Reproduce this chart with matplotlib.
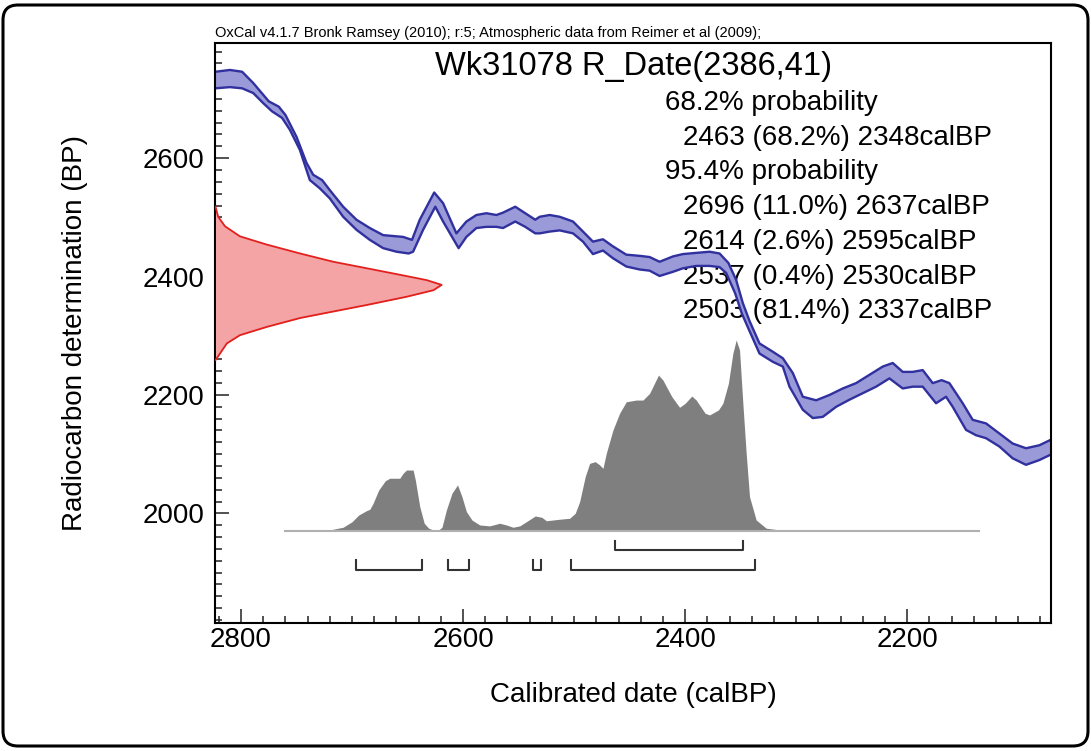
import matplotlib.pyplot as plt
import matplotlib.patches as mpatches
from matplotlib.ticker import MultipleLocator

plt.rcParams['font.family'] = ['Liberation Sans', 'DejaVu Sans']

header = "OxCal v4.1.7 Bronk Ramsey (2010); r:5; Atmospheric data from Reimer et al (2009);"
title = "Wk31078 R_Date(2386,41)"

# calibration curve band (cal BP, BP)
curve_hi_x = [2823, 2810, 2799, 2789, 2775, 2766, 2760, 2750, 2741, 2735, 2727, 2720, 2708, 2696,
              2684, 2672, 2654, 2646, 2639, 2626, 2618, 2606, 2597, 2588, 2579, 2570, 2564, 2553,
              2544, 2535, 2531, 2522, 2513, 2501, 2492, 2483, 2474, 2465, 2453, 2441, 2432, 2423,
              2411, 2402, 2390, 2378, 2369, 2361, 2354, 2348, 2342, 2333, 2321, 2312, 2303, 2294,
              2282, 2270, 2258, 2246, 2234, 2222, 2213, 2204, 2195, 2186, 2177, 2169, 2162, 2150,
              2141, 2129, 2117, 2105, 2093, 2081, 2071]
curve_hi_y = [2746, 2749, 2746, 2727, 2696, 2687, 2673, 2636, 2592, 2572, 2563, 2546, 2518, 2496,
              2482, 2470, 2467, 2462, 2496, 2542, 2524, 2473, 2493, 2504, 2507, 2504, 2508, 2518,
              2507, 2496, 2501, 2504, 2501, 2493, 2476, 2459, 2463, 2451, 2437, 2435, 2433, 2425,
              2434, 2438, 2440, 2442, 2439, 2423, 2394, 2355, 2325, 2287, 2273, 2262, 2237, 2197,
              2191, 2200, 2211, 2220, 2234, 2248, 2254, 2239, 2239, 2242, 2220, 2225, 2220, 2186,
              2158, 2152, 2135, 2118, 2110, 2115, 2124]
curve_lo_x = [2823, 2810, 2799, 2789, 2780, 2772, 2763, 2756, 2747, 2738, 2729, 2720, 2708, 2696,
              2684, 2672, 2660, 2649, 2645, 2636, 2625, 2618, 2604, 2597, 2588, 2579, 2570, 2564,
              2553, 2544, 2535, 2531, 2522, 2513, 2501, 2492, 2483, 2474, 2465, 2453, 2441, 2432,
              2423, 2411, 2402, 2390, 2378, 2369, 2363, 2355, 2349, 2342, 2333, 2321, 2312, 2306,
              2294, 2285, 2276, 2264, 2252, 2240, 2228, 2216, 2204, 2195, 2186, 2174, 2165, 2159,
              2147, 2138, 2129, 2117, 2105, 2093, 2081, 2071]
curve_lo_y = [2718, 2720, 2718, 2710, 2693, 2679, 2668, 2648, 2614, 2563, 2549, 2532, 2501, 2479,
              2462, 2448, 2442, 2439, 2442, 2479, 2518, 2493, 2448, 2467, 2482, 2484, 2484, 2482,
              2493, 2484, 2473, 2473, 2476, 2478, 2473, 2459, 2438, 2444, 2431, 2417, 2412, 2410,
              2401, 2408, 2414, 2418, 2418, 2416, 2406, 2372, 2338, 2308, 2270, 2256, 2248, 2214,
              2175, 2161, 2163, 2180, 2192, 2203, 2214, 2228, 2211, 2214, 2214, 2186, 2197, 2180,
              2141, 2132, 2127, 2113, 2093, 2082, 2090, 2099]

# radiocarbon measurement R_Date(2386,41), relative probability
rc_bp = [2518, 2501, 2485, 2468, 2454, 2439, 2425, 2414, 2403, 2394, 2386, 2377, 2366, 2352,
         2341, 2330, 2315, 2301, 2287, 2270, 2259]
rc_prob = [0.0, 0.012, 0.042, 0.108, 0.227, 0.374, 0.521, 0.669, 0.816, 0.934, 1.0, 0.964, 0.846,
           0.669, 0.521, 0.374, 0.227, 0.108, 0.05, 0.02, 0.0]

# calibrated date distribution, relative probability
cal_bp = [2760, 2720, 2708, 2700, 2694, 2687, 2684, 2681, 2676, 2670, 2666, 2657, 2654, 2651,
          2645, 2643, 2639, 2635, 2631, 2627, 2622, 2619, 2615, 2610, 2605, 2601, 2597, 2592,
          2585, 2576, 2567, 2561, 2555, 2549, 2543, 2535, 2529, 2525, 2519, 2513, 2504, 2499,
          2495, 2490, 2486, 2481, 2477, 2474, 2471, 2465, 2459, 2453, 2444, 2438, 2432, 2424,
          2420, 2412, 2405, 2400, 2394, 2390, 2382, 2378, 2370, 2366, 2361, 2357, 2354, 2351,
          2348, 2345, 2342, 2336, 2327, 2315, 2250, 2200, 2135]
cal_prob = [0.0, 0.004, 0.018, 0.047, 0.082, 0.105, 0.112, 0.144, 0.213, 0.262, 0.275, 0.275,
            0.301, 0.318, 0.318, 0.266, 0.126, 0.039, 0.013, 0.004, 0.004, 0.018, 0.109, 0.196,
            0.240, 0.178, 0.100, 0.056, 0.030, 0.025, 0.039, 0.030, 0.018, 0.025, 0.047, 0.077,
            0.070, 0.052, 0.056, 0.060, 0.065, 0.091, 0.152, 0.283, 0.353, 0.362, 0.345, 0.327,
            0.406, 0.528, 0.616, 0.676, 0.685, 0.685, 0.720, 0.816, 0.790, 0.703, 0.647, 0.668,
            0.706, 0.685, 0.616, 0.607, 0.633, 0.668, 0.773, 0.930, 1.0, 0.948, 0.668, 0.406,
            0.178, 0.056, 0.013, 0.004, 0.004, 0.003, 0.0]

# ranges: (from, to, percent)
ranges_68 = [(2463, 2348, 68.2)]
ranges_95 = [(2696, 2637, 11.0), (2614, 2595, 2.6), (2537, 2530, 0.4), (2503, 2337, 81.4)]

fig = plt.figure(figsize=(10.91, 7.51), dpi=100)
ax = fig.add_axes([0.1975, 0.1698, 0.7658, 0.7733])
ax.set_xlim(2823, 2070.5)
ax.set_ylim(1814, 2795)

# calibration curve
ax.fill(curve_hi_x + curve_lo_x[::-1], curve_hi_y + curve_lo_y[::-1],
        facecolor='#9a9ad8', edgecolor='none', zorder=2)
ax.plot(curve_hi_x, curve_hi_y, color='#30309e', lw=1.7, zorder=2.5)
ax.plot(curve_lo_x, curve_lo_y, color='#30309e', lw=1.7, zorder=2.5)

# range brackets
for lvl, rngs in [(1938, ranges_68), (1905, ranges_95)]:
    for a, b, p in rngs:
        ax.plot([a, a, b, b], [lvl + 16, lvl, lvl, lvl + 16], color='#333333', lw=1.5)

# measurement distribution on the y axis
ax_r = ax.twiny()
ax_r.set_xlim(0, 1 / 0.2707)
ax_r.axis('off')
ax_r.fill_betweenx(rc_bp, 0, rc_prob, color='#f4a4a4', lw=0)
ax_r.plot(rc_prob, rc_bp, color='#e2201e', lw=1.3)

# calibrated distribution
ax_g = ax.twinx()
ax_g.set_ylim(-0.4867, 2.559)
ax_g.axis('off')
ax_g.fill_between(cal_bp, 0, cal_prob, color='#7f7f7f', lw=0)
ax_g.plot([cal_bp[0], cal_bp[-1]], [0, 0], color='#b0b0b0', lw=1.5)

# texts
ax.text(0.5, 0.9444, title, transform=ax.transAxes, ha='center', va='baseline',
        fontsize=23.5, zorder=1)
lines = [(0.538, "68.2% probability")]
lines += [(0.5595, f"{a} ({p}%) {b}calBP") for a, b, p in ranges_68]
lines += [(0.538, "95.4% probability")]
lines += [(0.5595, f"{a} ({p}%) {b}calBP") for a, b, p in ranges_95]
for i, (xt, s) in enumerate(lines):
    ax.text(xt, 0.8841 - i * 0.0598, s, transform=ax.transAxes, ha='left', va='baseline',
            fontsize=20, zorder=1)

fig.text(0.197, 0.9503, header, fontsize=10.5, ha='left', va='baseline')

ax.set_xlabel("Calibrated date (calBP)", fontsize=20)
ax.set_ylabel("Radiocarbon determination (BP)", fontsize=20)
ax.xaxis.set_label_coords(0.5, -0.10)
ax.yaxis.set_label_coords(-0.152, 0.5)

ax.xaxis.set_major_locator(MultipleLocator(200))
ax.xaxis.set_minor_locator(MultipleLocator(20))
ax.yaxis.set_major_locator(MultipleLocator(200))
ax.yaxis.set_minor_locator(MultipleLocator(20))
ax.tick_params(which='both', direction='in', top=False, right=False, width=1.1, color='#222222')
ax.tick_params(which='major', length=10, labelsize=20)
ax.tick_params(which='minor', length=5)
ax.tick_params(axis='x', pad=2.5)
ax.tick_params(axis='y', pad=8)
for sp in ax.spines.values():
    sp.set_linewidth(1.5)

# rounded outer frame
frame = mpatches.FancyBboxPatch((0.03, 0.05), 10.85, 7.41,
                                boxstyle="round,pad=0,rounding_size=0.15",
                                transform=fig.dpi_scale_trans, facecolor='none',
                                edgecolor='black', lw=2.2)
fig.patches.append(frame)

fig.savefig('out.png', dpi=100)
